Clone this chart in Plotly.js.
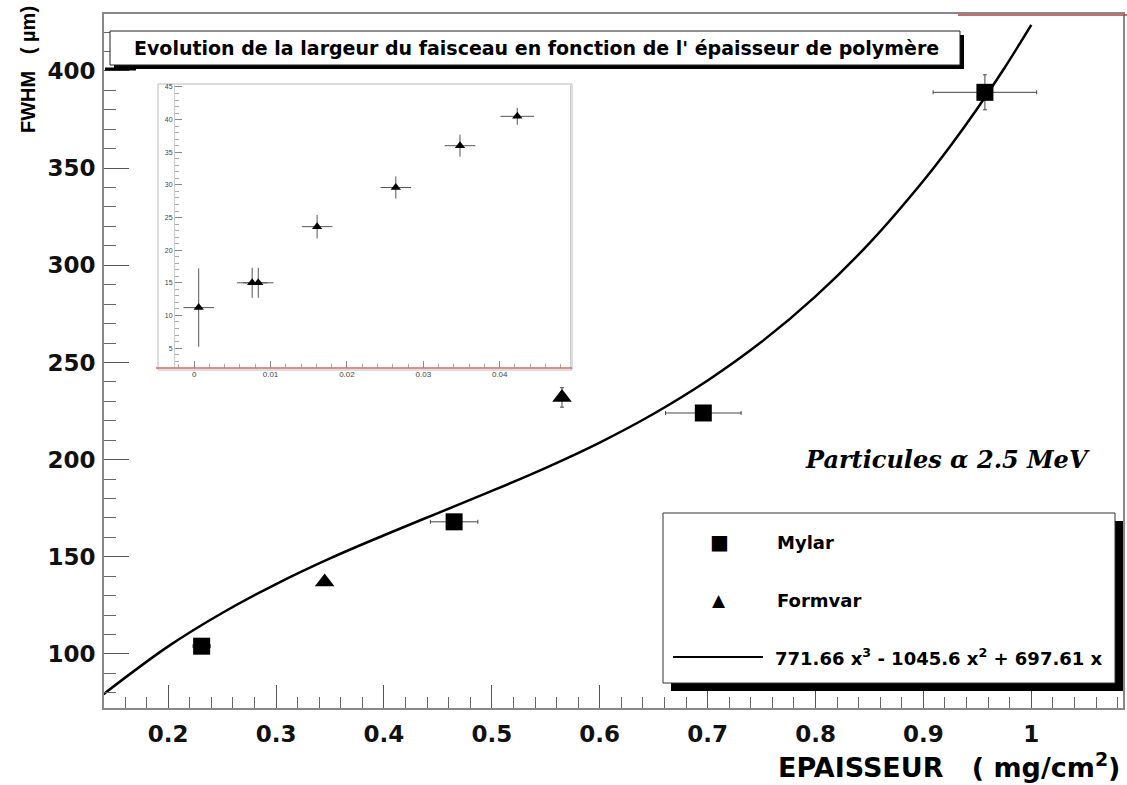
<!DOCTYPE html>
<html>
<head>
<meta charset="utf-8">
<script src="https://cdn.plot.ly/plotly-3.0.1.min.js"></script>
<style>html,body{margin:0;padding:0;background:#fff;}#chart{width:1127px;height:785px;}</style>
</head>
<body>
<div id="chart"></div>
<script>
// ---- data ----
const mylarX    = [0.231, 0.465, 0.696, 0.957];
const mylarY    = [104, 168, 224, 389];
const mylarXErr = [0.008, 0.022, 0.035, 0.048];
const mylarYErr = [2, 2, 3, 9];

const formvarX    = [0.345, 0.565];
const formvarY    = [137, 232];
const formvarYErr = [0, 5];

const fitX = [0.14, 0.2, 0.25, 0.3, 0.35, 0.4, 0.45, 0.5, 0.55, 0.6, 0.65, 0.7, 0.75, 0.8, 0.85, 0.9, 0.925, 0.95, 0.975, 1.0];
const fitY = [79.3, 103.9, 121.1, 136.0, 149.2, 161.1, 172.5, 183.9, 195.8, 208.8, 223.6, 240.7, 260.6, 284.0, 311.4, 343.5, 361.4, 380.7, 401.4, 423.7];

const insetX    = [0.0006, 0.0076, 0.0084, 0.0161, 0.0264, 0.0348, 0.0423];
const insetY    = [11.2, 15, 15, 23.6, 29.6, 36.0, 40.5];
const insetXErr = [0.002, 0.002, 0.002, 0.002, 0.002, 0.002, 0.0022];
const insetYErr = [6, 2.3, 2.3, 1.8, 1.7, 1.7, 1.3];

const titleText   = "Evolution de la largeur du faisceau en fonction de l' épaisseur de polymère";
const legendNames = ["Mylar", "Formvar", "771.66 x<sup>3</sup> - 1045.6 x<sup>2</sup> + 697.61 x"];
const xTitle = "EPAISSEUR   ( mg/cm<sup>2</sup>)";
const yTitle = "FWHM   ( µm)";
const noteText = "Particules α 2.5 MeV";

// ---- pixel helpers (plot area: x 104..1123, y 14..708) ----
const L = 104, R = 1123, T = 14, B = 708;
const W = R - L, H = B - T;
const px = x => (x - L) / W;
const py = y => (B - y) / H;

const FONT = "DejaVu Sans, Arial, sans-serif";
const FONT2 = "Liberation Sans, Arial, sans-serif";
const errStyle = {color: '#444', thickness: 1, width: 2};

const traces = [
  {x: fitX, y: fitY, mode: 'lines', line: {color: '#000', width: 2.5, shape: 'spline'}, xaxis: 'x', yaxis: 'y', showlegend: false, hoverinfo: 'skip'},
  {x: mylarX, y: mylarY, mode: 'markers', marker: {symbol: 'square', size: 17, color: '#000'},
   error_x: Object.assign({type: 'data', array: mylarXErr, visible: true}, errStyle),
   error_y: Object.assign({type: 'data', array: mylarYErr, visible: true}, errStyle),
   xaxis: 'x', yaxis: 'y', showlegend: false},
  {x: formvarX, y: formvarY, mode: 'markers', marker: {symbol: 'triangle-up', size: 17, color: '#000'},
   error_y: Object.assign({type: 'data', array: formvarYErr, visible: true}, errStyle),
   xaxis: 'x', yaxis: 'y', showlegend: false},
  {x: insetX, y: insetY, mode: 'markers', marker: {symbol: 'triangle-up', size: 9, color: '#000'},
   error_x: Object.assign({type: 'data', array: insetXErr, visible: true}, {color: '#555', thickness: 1, width: 0}),
   error_y: Object.assign({type: 'data', array: insetYErr, visible: true}, {color: '#555', thickness: 1, width: 0}),
   xaxis: 'x2', yaxis: 'y2', showlegend: false}
];

const shapes = [
  // inset pad
  {type: 'rect', xref: 'paper', yref: 'paper', x0: px(158), x1: px(572), y0: py(370), y1: py(84), line: {color: '#bbb', width: 1}, fillcolor: '#fff', layer: 'below'},
  {type: 'line', xref: 'paper', yref: 'paper', x0: px(156), x1: px(572), y0: py(368), y1: py(368), line: {color: '#d06a6a', width: 1.5}},
  // title box: shadow + box
  {type: 'rect', xref: 'paper', yref: 'paper', x0: px(114), x1: px(964), y0: py(69), y1: py(35), line: {width: 0}, fillcolor: '#000'},
  {type: 'rect', xref: 'paper', yref: 'paper', x0: px(110), x1: px(960), y0: py(65), y1: py(31), line: {color: '#222', width: 1}, fillcolor: '#fff'},
  // red line top right
  {type: 'line', xref: 'paper', yref: 'paper', x0: px(958), x1: px(1127), y0: py(15), y1: py(15), line: {color: '#b04040', width: 1.5}},
  // short heavy tick at top-left
  {type: 'line', xref: 'paper', yref: 'paper', x0: px(105), x1: px(136), y0: py(69), y1: py(69), line: {color: '#000', width: 3}},
  // legend: shadow + box
  {type: 'rect', xref: 'paper', yref: 'paper', x0: px(671), x1: px(1123), y0: py(691), y1: py(521), line: {width: 0}, fillcolor: '#000'},
  {type: 'rect', xref: 'paper', yref: 'paper', x0: px(663), x1: px(1115), y0: py(683), y1: py(513), line: {color: '#333', width: 1}, fillcolor: '#fff'},
  {type: 'line', xref: 'paper', yref: 'paper', x0: px(673), x1: px(763), y0: py(657), y1: py(657), line: {color: '#000', width: 2}}
];

const annotations = [
  {text: titleText, xref: 'paper', yref: 'paper', x: px(536), y: py(48), xanchor: 'center', yanchor: 'middle', showarrow: false,
   font: {family: FONT, size: 19, color: '#000', weight: 'bold'}},
  {text: yTitle, xref: 'paper', yref: 'paper', x: px(28), y: py(70), xanchor: 'center', yanchor: 'middle', textangle: -90, showarrow: false,
   font: {family: FONT2, size: 20, color: '#000', weight: 'bold'}},
  {text: xTitle, xref: 'paper', yref: 'paper', x: px(1122), y: py(765), xanchor: 'right', yanchor: 'middle', showarrow: false,
   font: {family: FONT, size: 27, color: '#000', weight: 'bold'}},
  {text: noteText, xref: 'paper', yref: 'paper', x: px(1092), y: py(460), xanchor: 'right', yanchor: 'middle', showarrow: false,
   font: {family: 'DejaVu Serif, Liberation Serif, serif', size: 24, color: '#000', weight: 'bold', style: 'italic'}},
  {text: '■', xref: 'paper', yref: 'paper', x: px(719), y: py(542), xanchor: 'center', yanchor: 'middle', showarrow: false,
   font: {family: 'DejaVu Sans', size: 20, color: '#000'}},
  {text: '▲', xref: 'paper', yref: 'paper', x: px(719), y: py(600), xanchor: 'center', yanchor: 'middle', showarrow: false,
   font: {family: 'DejaVu Sans', size: 17, color: '#000'}},
  {text: legendNames[0], xref: 'paper', yref: 'paper', x: px(775), y: py(542), xanchor: 'left', yanchor: 'middle', showarrow: false,
   font: {family: FONT, size: 18, color: '#000', weight: 'bold'}},
  {text: legendNames[1], xref: 'paper', yref: 'paper', x: px(775), y: py(600), xanchor: 'left', yanchor: 'middle', showarrow: false,
   font: {family: FONT, size: 18, color: '#000', weight: 'bold'}},
  {text: legendNames[2], xref: 'paper', yref: 'paper', x: px(773), y: py(657), xanchor: 'left', yanchor: 'middle', showarrow: false,
   font: {family: FONT, size: 18, color: '#000', weight: 'bold'}}
];

const layout = {
  width: 1127, height: 785,
  margin: {l: L, r: 1127 - R, t: T, b: 785 - B, pad: 0},
  paper_bgcolor: '#fff', plot_bgcolor: '#fff',
  showlegend: false,
  xaxis: {domain: [0, 1], range: [0.1405, 1.085], dtick: 0.1, tick0: 0, ticks: 'inside', ticklen: 23, tickwidth: 1, tickcolor: '#555',
    minor: {dtick: 0.02, ticks: 'inside', ticklen: 11, tickcolor: '#666', showgrid: false},
    showline: true, linecolor: '#888', linewidth: 2, mirror: true, showgrid: false, zeroline: false,
    tickfont: {family: FONT, size: 23, color: '#111', weight: 'bold'}, ticklabelstandoff: 4},
  yaxis: {domain: [0, 1], range: [72.2, 429.3], dtick: 50, tick0: 0, ticks: 'inside', ticklen: 25, tickwidth: 1, tickcolor: '#555',
    minor: {dtick: 10, ticks: 'inside', ticklen: 12, tickcolor: '#666', showgrid: false},
    showline: true, linecolor: '#888', linewidth: 2, mirror: true, showgrid: false, zeroline: false,
    tickfont: {family: FONT, size: 23, color: '#111', weight: 'bold'}, ticklabelstandoff: 2},
  xaxis2: {domain: [px(175), px(570)], anchor: 'y2', range: [-0.0025, 0.0492], dtick: 0.01, tick0: 0,
    ticks: 'inside', ticklen: 7, tickcolor: '#888', minor: {dtick: 0.002, ticks: 'inside', ticklen: 4, tickcolor: '#aaa'},
    showline: false, showgrid: false, zeroline: false,
    tickfont: {family: FONT2, size: 8, color: '#444'}},
  yaxis2: {domain: [py(368), py(85)], anchor: 'x2', range: [1.95, 45.3], dtick: 5, tick0: 0,
    ticks: 'inside', ticklen: 7, tickcolor: '#888', minor: {dtick: 1, ticks: 'inside', ticklen: 4, tickcolor: '#aaa'},
    showline: true, linecolor: '#ccc', linewidth: 1, mirror: true, showgrid: false, zeroline: false,
    tickfont: {family: FONT2, size: 7, color: '#444'}},
  shapes: shapes,
  annotations: annotations
};

Plotly.newPlot('chart', traces, layout, {staticPlot: true, displayModeBar: false});
</script>
</body>
</html>
